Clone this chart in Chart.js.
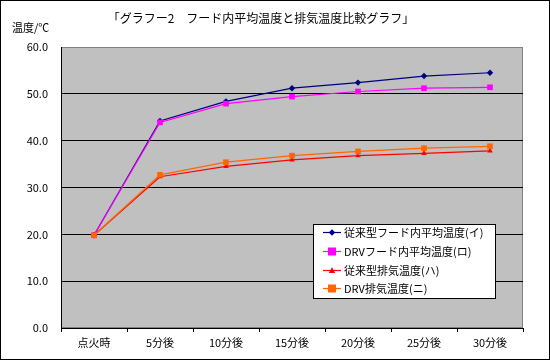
<!DOCTYPE html>
<html><head><meta charset="utf-8">
<script src="https://cdn.jsdelivr.net/npm/chart.js@4/dist/chart.umd.min.js"></script>
<style>html,body{margin:0;padding:0;background:#fff}#wrap{position:relative;width:550px;height:360px}</style>
</head><body><div id="wrap"><canvas id="c" width="550" height="360"></canvas></div>
<script>
const categories = ['点火時','5分後','10分後','15分後','20分後','25分後','30分後'];
const conventionalHood = [19.8, 44.2, 48.4, 51.2, 52.4, 53.8, 54.5];
const drvHood          = [19.8, 43.9, 47.9, 49.4, 50.5, 51.2, 51.4];
const conventionalExhaust = [19.8, 32.3, 34.5, 35.9, 36.8, 37.3, 37.8];
const drvExhaust          = [19.8, 32.7, 35.4, 36.8, 37.7, 38.4, 38.8];
const yTicks = [0,10,20,30,40,50,60];
const seriesNames = ['従来型フード内平均温度(イ)','DRVフード内平均温度(ロ)','従来型排気温度(ハ)','DRV排気温度(ニ)'];
const titleText = '「グラフー2　フード内平均温度と排気温度比較グラフ」';
const yAxisTitle = '温度/℃';

const FONT = '"Noto Sans CJK JP", "Noto Sans", sans-serif';
const colors = ['#000080','#FF00FF','#FF0000','#FF6600'];
const styles = ['rectRot','rect','triangle','rect'];
const radii = [3.2, 4, 3.2, 4];

function drawMarker(ctx, style, x, y, r, color){
  ctx.save(); ctx.fillStyle = color; ctx.beginPath();
  if (style==='rect'){ ctx.rect(x-r, y-r, 2*r, 2*r); }
  else if (style==='rectRot'){ ctx.moveTo(x, y-r); ctx.lineTo(x+r, y); ctx.lineTo(x, y+r); ctx.lineTo(x-r, y); ctx.closePath(); }
  else if (style==='triangle'){ ctx.moveTo(x, y-r); ctx.lineTo(x+r, y+r*0.8); ctx.lineTo(x-r, y+r*0.8); ctx.closePath(); }
  ctx.fill(); ctx.restore();
}

const decor = {
  id:'decor',
  beforeDraw(chart){
    const {ctx, chartArea:a} = chart;
    ctx.save();
    ctx.fillStyle='#fff'; ctx.fillRect(0,0,chart.width,chart.height);
    ctx.fillStyle='#C0C0C0'; ctx.fillRect(a.left,a.top,a.right-a.left,a.bottom-a.top);
    ctx.strokeStyle='#808080'; ctx.lineWidth=1;
    ctx.strokeRect(a.left+0.5,a.top+0.5,a.right-a.left-1,a.bottom-a.top-1);
    ctx.restore();
  },
  afterDraw(chart){
    const {ctx} = chart;
    ctx.save();
    ctx.fillStyle='#000'; ctx.textBaseline='middle';
    ctx.font = '12px '+FONT; ctx.textAlign='center';
    ctx.fillText(titleText, 261, 18);
    ctx.font = '11px '+FONT; ctx.textAlign='left';
    ctx.fillText(yAxisTitle, 12, 28);
    // legend
    const lx=313, ly=224, lw=182, lh=74;
    ctx.fillStyle='#fff'; ctx.fillRect(lx,ly,lw,lh);
    ctx.strokeStyle='#000'; ctx.lineWidth=1; ctx.strokeRect(lx+0.5,ly+0.5,lw,lh);
    const ys=[232,251,270,288];
    chart.data.datasets.forEach((ds,i)=>{
      const y=ys[i];
      ctx.strokeStyle=ds.borderColor; ctx.lineWidth=1.2;
      ctx.beginPath(); ctx.moveTo(323,y+0.5); ctx.lineTo(341,y+0.5); ctx.stroke();
      drawMarker(ctx, styles[i], 332, y+0.5, radii[i], ds.borderColor);
      ctx.fillStyle='#000'; ctx.font='11px '+FONT; ctx.textAlign='left';
      ctx.fillText(ds.label, 344, y+1);
    });
    ctx.strokeStyle='#000'; ctx.lineWidth=1; ctx.strokeRect(0.5,0.5,chart.width-1,chart.height-1);
    ctx.restore();
  }
};

const seriesData=[conventionalHood, drvHood, conventionalExhaust, drvExhaust];
new Chart(document.getElementById('c'), {
  type:'line',
  data:{
    labels: categories,
    datasets: seriesData.map((d,i)=>({
      label: seriesNames[i], data: d, borderColor: colors[i], backgroundColor: colors[i],
      borderWidth: 1.2, pointStyle: styles[i], pointRadius: radii[i], pointBorderWidth: 0,
      pointBackgroundColor: colors[i], tension: 0, order: 3-i
    }))
  },
  options:{
    responsive:false, animation:false, devicePixelRatio:1,
    layout:{padding:{left:0,right:27,top:47,bottom:0}},
    plugins:{legend:{display:false}, tooltip:{enabled:false}, title:{display:false}},
    scales:{
      x:{
        offset:true,
        grid:{offset:true, drawOnChartArea:false, drawTicks:true, tickLength:4, color:'#000'},
        border:{color:'#000', width:1},
        ticks:{color:'#000', font:{family:FONT,size:11}, padding:4, maxRotation:0, autoSkip:false},
        afterFit(s){ s.height = 32; }
      },
      y:{
        min:0, max:60,
        afterBuildTicks(s){ s.ticks = yTicks.map(v=>({value:v})); },
        grid:{drawTicks:false, tickLength:0, color:(c)=> (c.tick && (c.tick.value===60 || c.tick.value===0)) ? 'rgba(0,0,0,0)' : '#000', lineWidth:1},
        border:{color:'#000', width:1},
        ticks:{color:'#000', font:{family:FONT,size:11}, padding:13, callback:(v)=>Number(v).toFixed(1)},
        afterFit(s){ s.width = 61; }
      }
    }
  },
  plugins:[decor]
});
</script></body></html>
